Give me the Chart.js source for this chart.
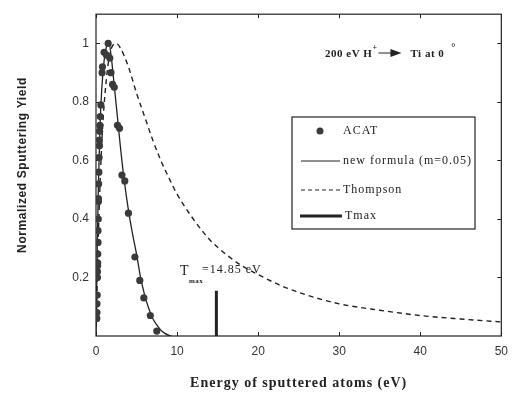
<!DOCTYPE html>
<html>
<head>
<meta charset="utf-8">
<script src="https://cdn.jsdelivr.net/npm/chart.js@4.4.0/dist/chart.umd.min.js"></script>
<style>
  html, body { margin: 0; padding: 0; background: #fff; }
  #wrap { width: 516px; height: 394px; }
</style>
</head>
<body>
<div id="wrap"><canvas id="chart" width="516" height="394"></canvas></div>
<script>
// ACAT simulation points (energy in eV, normalized yield)
const acatEnergy = [0.10, 0.12, 0.12, 0.15, 0.18, 0.18, 0.20, 0.20, 0.22, 0.25, 0.25, 0.28, 0.30, 0.30, 0.32, 0.35,
  0.38, 0.42, 0.42, 0.45, 0.48, 0.52, 0.60, 0.75, 0.80, 1.00, 1.30, 1.50, 1.70, 1.85, 2.05, 2.25, 2.65, 2.90,
  3.20, 3.55, 4.00, 4.80, 5.40, 5.90, 6.70, 7.50];
const acatYield = [0.06, 0.08, 0.11, 0.14, 0.20, 0.22, 0.24, 0.25, 0.28, 0.32, 0.36, 0.40, 0.46, 0.47, 0.52, 0.56,
  0.61, 0.65, 0.67, 0.70, 0.72, 0.75, 0.79, 0.90, 0.92, 0.97, 0.96, 1.00, 0.95, 0.90, 0.86, 0.85, 0.72, 0.71,
  0.55, 0.53, 0.42, 0.27, 0.19, 0.13, 0.07, 0.017];

// new formula (m=0.05)
const formulaEnergy = [0, 0.1, 0.2, 0.3, 0.5, 0.7, 1.0, 1.3, 1.6, 1.9, 2.2, 2.6, 3.0, 3.4, 4.0, 4.5, 5.0, 5.5,
  6.0, 6.5, 7.0, 7.5, 8.0, 8.5, 9.0, 9.3];
const formulaYield = [0, 0.20, 0.38, 0.52, 0.72, 0.84, 0.94, 0.99, 1.00, 0.95, 0.87, 0.76, 0.65, 0.55, 0.43, 0.35,
  0.28, 0.20, 0.14, 0.095, 0.06, 0.038, 0.02, 0.009, 0.002, 0];

// Thompson distribution
const thompsonEnergy = [0, 0.25, 0.5, 0.75, 1, 1.5, 2, 2.5, 3, 4, 5, 6, 7, 8, 9, 10, 12, 14, 16, 18, 20, 23, 26,
  30, 35, 40, 45, 50];
const thompsonYield = [0, 0.30, 0.52, 0.68, 0.79, 0.93, 0.99, 1.00, 0.985, 0.92, 0.83, 0.75, 0.67, 0.60, 0.54,
  0.485, 0.40, 0.33, 0.28, 0.24, 0.21, 0.17, 0.14, 0.11, 0.088, 0.070, 0.058, 0.048];

// Tmax marker
const tmaxEnergy = [14.85, 14.85];
const tmaxYield = [0, 0.155];

const xTicks = [0, 10, 20, 30, 40, 50];
const yTicks = [0.2, 0.4, 0.6, 0.8, 1];

const toPoints = (xs, ys) => xs.map((x, i) => ({ x, y: ys[i] }));

const INK = '#222';
const SERIF = "'Liberation Serif', 'Times New Roman', serif";
const SANS = "'Liberation Sans', Arial, sans-serif";

// frame, inward ticks, titles, legend box and notes
const decorations = {
  id: 'decorations',
  beforeDatasetsDraw(chart) {
    const { ctx, chartArea: a, scales } = chart;
    ctx.save();
    ctx.strokeStyle = INK;
    ctx.lineWidth = 1.2;
    ctx.strokeRect(a.left, a.top, a.right - a.left, a.bottom - a.top);
    ctx.lineWidth = 1;
    ctx.beginPath();
    xTicks.forEach(v => {
      const px = Math.round(scales.x.getPixelForValue(v)) + 0.5;
      ctx.moveTo(px, a.bottom); ctx.lineTo(px, a.bottom - 4);
      ctx.moveTo(px, a.top); ctx.lineTo(px, a.top + 4);
    });
    yTicks.forEach(v => {
      const py = Math.round(scales.y.getPixelForValue(v)) + 0.5;
      ctx.moveTo(a.left, py); ctx.lineTo(a.left + 4, py);
      ctx.moveTo(a.right, py); ctx.lineTo(a.right - 4, py);
    });
    ctx.stroke();
    ctx.restore();
  },
  afterDatasetsDraw(chart) {
    const { ctx, chartArea: a } = chart;
    ctx.save();
    ctx.fillStyle = INK;
    ctx.strokeStyle = INK;

    // axis titles
    ctx.letterSpacing = '1px';
    ctx.font = `bold 14px ${SERIF}`;
    ctx.textAlign = 'center';
    ctx.textBaseline = 'middle';
    ctx.fillText('Energy of sputtered atoms (eV)', (a.left + a.right) / 2, 383);

    ctx.save();
    ctx.translate(23, 165);
    ctx.rotate(-Math.PI / 2);
    ctx.font = `bold 12px ${SANS}`;
    ctx.letterSpacing = '0.6px';
    ctx.fillText('Normalized Sputtering Yield', 0, 0);
    ctx.restore();

    // legend box
    const lx = 292, ly = 117, lw = 183, lh = 112;
    ctx.fillStyle = '#fff';
    ctx.fillRect(lx, ly, lw, lh);
    ctx.fillStyle = INK;
    ctx.lineWidth = 1.2;
    ctx.strokeRect(lx, ly, lw, lh);

    ctx.textAlign = 'left';
    ctx.font = `12px ${SERIF}`;
    const tx = 343;
    // ACAT
    ctx.beginPath();
    ctx.fillStyle = '#3a3a3a';
    ctx.arc(320, 131, 3.5, 0, Math.PI * 2);
    ctx.fill();
    ctx.fillStyle = INK;
    ctx.fillText('ACAT', tx, 131);
    // new formula
    ctx.lineWidth = 1.2;
    ctx.beginPath(); ctx.moveTo(301, 161); ctx.lineTo(340, 161); ctx.stroke();
    ctx.fillText('new formula (m=0.05)', tx, 161);
    // Thompson
    ctx.setLineDash([4, 3]);
    ctx.beginPath(); ctx.moveTo(301, 190); ctx.lineTo(340, 190); ctx.stroke();
    ctx.setLineDash([]);
    ctx.fillText('Thompson', tx, 190);
    // Tmax
    ctx.lineWidth = 3;
    ctx.beginPath(); ctx.moveTo(300, 216); ctx.lineTo(342, 216); ctx.stroke();
    ctx.fillText('Tmax', 345, 216);

    // Tmax annotation
    ctx.letterSpacing = '0.5px';
    ctx.font = `14px ${SERIF}`;
    ctx.fillText('T', 180, 271);
    ctx.font = `bold 7px ${SERIF}`;
    ctx.fillText('max', 189, 281);
    ctx.letterSpacing = '1px';
    ctx.font = `12px ${SERIF}`;
    ctx.fillText('=14.85 eV', 202, 270);

    // condition note
    ctx.letterSpacing = '0.5px';
    ctx.font = `bold 11px ${SERIF}`;
    let x = 325;
    const y = 54;
    const put = (s, dy = 0, f = null) => {
      if (f) ctx.font = f;
      ctx.fillText(s, x, y + dy);
      x += ctx.measureText(s).width;
    };
    put('200 eV H');
    put('+', -6, `bold 8px ${SERIF}`);
    // arrow
    ctx.lineWidth = 1;
    ctx.beginPath(); ctx.moveTo(x + 1, y - 1); ctx.lineTo(x + 16, y - 1); ctx.stroke();
    ctx.beginPath();
    ctx.moveTo(x + 13, y - 5); ctx.lineTo(x + 24, y - 1); ctx.lineTo(x + 13, y + 3); ctx.closePath();
    ctx.fill();
    x += 33;
    put('Ti at 0', 0, `bold 11px ${SERIF}`);
    x += 7;
    put('\u00b0', -6, `bold 10px ${SERIF}`);
    ctx.restore();
  }
};

new Chart(document.getElementById('chart'), {
  type: 'scatter',
  data: {
    datasets: [
      {
        label: 'ACAT',
        data: toPoints(acatEnergy, acatYield),
        pointRadius: 3.6,
        pointBackgroundColor: '#3a3a3a',
        pointBorderWidth: 0,
        showLine: false,
        order: 1
      },
      {
        label: 'new formula (m=0.05)',
        data: toPoints(formulaEnergy, formulaYield),
        showLine: true,
        borderColor: INK,
        borderWidth: 1.3,
        pointRadius: 0,
        cubicInterpolationMode: 'monotone',
        order: 2
      },
      {
        label: 'Thompson',
        data: toPoints(thompsonEnergy, thompsonYield),
        showLine: true,
        borderColor: INK,
        borderWidth: 1.4,
        borderDash: [5, 4],
        pointRadius: 0,
        cubicInterpolationMode: 'monotone',
        order: 3
      },
      {
        label: 'Tmax',
        data: toPoints(tmaxEnergy, tmaxYield),
        showLine: true,
        borderColor: INK,
        borderWidth: 3,
        pointRadius: 0,
        order: 4
      }
    ]
  },
  options: {
    responsive: false,
    animation: false,
    layout: { padding: { top: 10, right: 13, left: 0, bottom: 0 } },
    plugins: {
      legend: { display: false },
      tooltip: { enabled: false }
    },
    scales: {
      x: {
        type: 'linear',
        min: 0,
        max: 50,
        afterBuildTicks: s => { s.ticks = xTicks.map(v => ({ value: v })); },
        afterFit: s => { s.height = 58; },
        grid: { display: false, drawTicks: false },
        border: { display: false },
        ticks: { color: '#333', padding: 8, font: { family: SANS, size: 12 }, callback: v => String(v) }
      },
      y: {
        type: 'linear',
        min: 0,
        max: 1.1,
        afterBuildTicks: s => { s.ticks = yTicks.map(v => ({ value: v })); },
        afterFit: s => { s.width = 96; },
        grid: { display: false, drawTicks: false },
        border: { display: false },
        ticks: { color: '#333', padding: 7, font: { family: SANS, size: 12 }, callback: v => String(v) }
      }
    }
  },
  plugins: [decorations]
});
</script>
</body>
</html>
